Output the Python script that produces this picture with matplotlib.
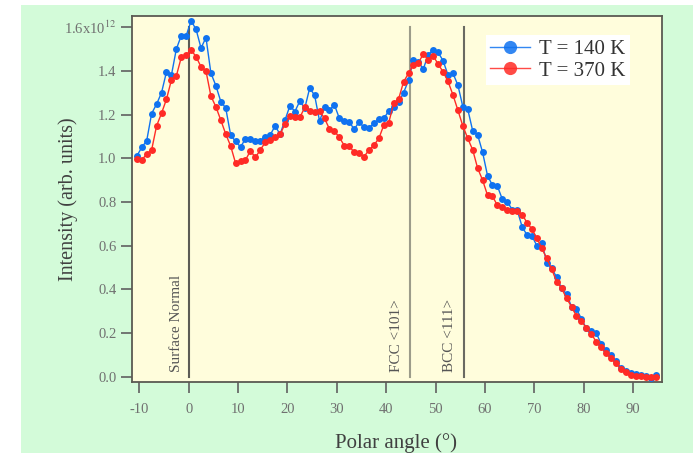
import matplotlib
matplotlib.use("Agg")
import matplotlib.pyplot as plt
import numpy as np
from matplotlib.patches import Rectangle

plt.rcParams['font.family'] = ['Liberation Serif', 'DejaVu Serif']
plt.rcParams['mathtext.fontset'] = 'stix'
plt.rcParams['axes.unicode_minus'] = False

# polar angle grid (deg), one sample per degree
angle = np.arange(-10.5, 95.0, 1.0)

# intensity in units of 1e12
I_140 = [1.01, 1.05, 1.08, 1.205, 1.248, 1.30, 1.395, 1.38, 1.50, 1.562,
         1.562, 1.63, 1.59, 1.505, 1.553, 1.39, 1.333, 1.26, 1.23, 1.106,
         1.077, 1.052, 1.089, 1.089, 1.08, 1.081, 1.099, 1.107, 1.148, 1.11,
         1.175, 1.241, 1.214, 1.262, 1.229, 1.322, 1.288, 1.17, 1.235, 1.22,
         1.245, 1.183, 1.17, 1.168, 1.132, 1.167, 1.141, 1.14, 1.16, 1.178,
         1.183, 1.216, 1.236, 1.257, 1.30, 1.357, 1.45, 1.441, 1.409, 1.475,
         1.497, 1.485, 1.447, 1.381, 1.389, 1.335, 1.236, 1.224, 1.125, 1.107,
         1.027, 0.92, 0.876, 0.872, 0.812, 0.80, 0.765, 0.763, 0.686, 0.648,
         0.644, 0.598, 0.613, 0.521, 0.496, 0.454, 0.404, 0.378, 0.32, 0.31,
         0.265, 0.221, 0.21, 0.20, 0.149, 0.121, 0.098, 0.07, 0.04, 0.027,
         0.015, 0.01, 0.008, 0.003, -0.008, 0.005]

I_370 = [0.995, 0.992, 1.019, 1.038, 1.148, 1.206, 1.27, 1.358, 1.377, 1.462,
         1.473, 1.496, 1.465, 1.419, 1.40, 1.285, 1.236, 1.175, 1.111, 1.056,
         0.977, 0.987, 0.992, 1.034, 1.004, 1.038, 1.073, 1.083, 1.096, 1.109,
         1.157, 1.193, 1.187, 1.187, 1.233, 1.216, 1.21, 1.216, 1.183, 1.134,
         1.124, 1.096, 1.058, 1.056, 1.027, 1.022, 1.007, 1.038, 1.06, 1.091,
         1.152, 1.163, 1.251, 1.272, 1.35, 1.389, 1.429, 1.437, 1.478, 1.45,
         1.469, 1.431, 1.396, 1.352, 1.29, 1.22, 1.148, 1.091, 1.038, 0.954,
         0.90, 0.83, 0.826, 0.784, 0.775, 0.764, 0.76, 0.76, 0.742, 0.705,
         0.675, 0.633, 0.587, 0.541, 0.491, 0.434, 0.404, 0.358, 0.32, 0.277,
         0.256, 0.221, 0.196, 0.159, 0.134, 0.106, 0.083, 0.06, 0.034, 0.022,
         0.008, 0.004, 0.002, 0.0, 0.0, 0.0]

# reference directions
marker_pos = [0.0, 44.9, 55.8]
marker_txt = ['Surface Normal', 'FCC <101>', 'BCC <111>']
marker_txt_x = [-2.4, 42.1, 52.75]
marker_col = ['#5c5c55', '#9c9c8a', '#6a6a62']

yticks = [0.0, 0.2, 0.4, 0.6, 0.8, 1.0, 1.2, 1.4, 1.6]
yticklabels = ['0.0', '0.2', '0.4', '0.6', '0.8', '1.0', '1.2', '1.4', r'1.6x10$^{12}$']
xticks = [-10, 0, 10, 20, 30, 40, 50, 60, 70, 80, 90]

fig = plt.figure(figsize=(6.93, 4.53), dpi=100, facecolor='white')
fig.patches.append(Rectangle((21 / 693, 0), 1 - 21 / 693, 1 - 5 / 453,
                             transform=fig.transFigure, facecolor='#d3fbd9',
                             edgecolor='none', zorder=-1))

ax = fig.add_axes([0.190, 0.1567, 0.7648, 0.8086])
ax.set_facecolor('#fffddc')

for xp, t, tx, c in zip(marker_pos, marker_txt, marker_txt_x, marker_col):
    ax.plot([xp, xp], [0.0, 1.6], color=c, lw=1.5, zorder=1)
    ax.text(tx, 0.022, t, rotation=90, ha='center', va='bottom',
            fontsize=11, color='#555555')

ax.plot(angle, I_140, '-o', color='#0f72f0', lw=1.0, ms=5, mew=0,
        label='T = 140 K', zorder=3)
ax.plot(angle, I_370, '-o', color='#ff2b26', lw=1.0, ms=5, mew=0,
        label='T = 370 K', zorder=3)

ax.set_xlim(-11.54, 95.75)
ax.set_ylim(-0.025, 1.653)
ax.set_yticks(yticks)
ax.set_yticklabels(yticklabels)
ax.set_xticks(xticks)
ax.tick_params(direction='out', length=8, width=1.2, colors='#606060',
               labelsize=10.5, labelcolor='#707070')
ax.tick_params(axis='x', pad=7)
ax.tick_params(axis='y', pad=3)
for s in ax.spines.values():
    s.set_color('#5a5a52')
    s.set_linewidth(1.3)

ax.set_xlabel('Polar angle (°)', fontsize=15, color='#404040')
ax.set_ylabel('Intensity (arb. units)', fontsize=14.5, color='#404040')
ax.xaxis.set_label_coords(0.4987, -0.139)
ax.yaxis.set_label_coords(-0.101, 0.50)

leg = ax.legend(loc='upper right', bbox_to_anchor=(0.940, 0.947),
                borderaxespad=0, fontsize=15, markerscale=1.9,
                frameon=True, fancybox=False, handlelength=1.9,
                handletextpad=0.45, borderpad=0.2, labelspacing=0.1)
leg.get_frame().set_facecolor('white')
leg.get_frame().set_edgecolor('none')
leg.get_frame().set_alpha(1.0)
for t in leg.get_texts():
    t.set_color('#333333')
for h in leg.get_lines():
    h.set_alpha(0.85)

fig.savefig('out.png', dpi=100, facecolor=fig.get_facecolor())
